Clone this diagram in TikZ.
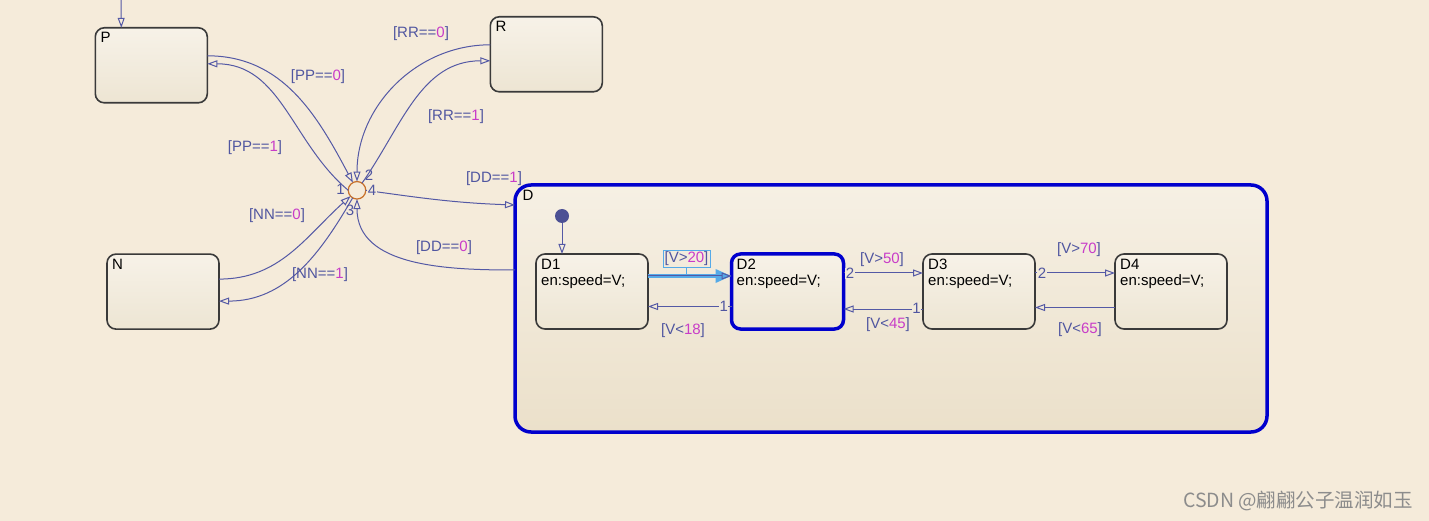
\documentclass[tikz,border=0pt]{standalone}
\usepackage{fontspec}
\setmainfont{Liberation Sans}
\newfontfamily\cjkfont{Noto Sans CJK SC}
\usepackage{xcolor}
\usepackage{tikz}
\usetikzlibrary{arrows.meta, positioning, calc}

\definecolor{bgbeige}{RGB}{245,235,218}
\definecolor{stroke}{RGB}{58,58,58}
\definecolor{transblue}{RGB}{84,89,165}
\definecolor{guardtxt}{RGB}{80,86,160}
\definecolor{guardnum}{RGB}{200,60,200}
\definecolor{activeblue}{RGB}{0,0,205}
\definecolor{hilite}{RGB}{85,170,232}
\definecolor{juncorange}{RGB}{200,112,40}
\definecolor{filltop}{RGB}{247,242,232}
\definecolor{fillbot}{RGB}{237,229,211}
\definecolor{dtop}{RGB}{246,240,228}
\definecolor{dbot}{RGB}{235,224,202}
\definecolor{dmid}{RGB}{242,234,219}
\definecolor{wmgray}{RGB}{140,140,140}

\newcommand{\statefont}{\fontsize{15}{16.5}\selectfont}
\newcommand{\guardfont}{\fontsize{15}{17}\selectfont}
\newcommand{\guard}[2]{[#1\textcolor{guardnum}{#2}]}

\tikzset{
    state/.style={
        rectangle,
        draw=stroke,
        line width=1.6pt,
        rounded corners=9pt,
        outer sep=0pt,
        minimum width=112pt,
        minimum height=75pt,
        top color=filltop,
        bottom color=fillbot
    },
    activestate/.style={
        draw=activeblue,
        line width=3.5pt
    },
    super/.style={
        rectangle,
        draw=activeblue,
        line width=3.5pt,
        rounded corners=16pt,
        outer sep=0pt,
        minimum width=752pt,
        minimum height=247pt,
        top color=dtop,
        bottom color=dbot
    },
    statename/.style={
        anchor=north west,
        inner sep=0pt,
        xshift=5pt,
        yshift=-4.5pt,
        align=left,
        text=black,
        font=\statefont
    },
    supername/.style={
        anchor=north west,
        inner sep=0pt,
        xshift=7.5pt,
        yshift=-5pt,
        text=black,
        font=\statefont
    },
    junc/.style={
        circle,
        draw=juncorange,
        line width=1.2pt,
        fill=bgbeige,
        outer sep=0pt,
        inner sep=0pt,
        minimum size=17.5pt
    },
    dflt/.style={
        circle,
        fill=transblue!90!black,
        inner sep=0pt,
        minimum size=14pt
    },
    trans/.style={
        draw=transblue,
        line width=1pt,
        -{Triangle[open, length=10pt, width=7pt]}
    },
    activetrans/.style={
        draw=hilite,
        line width=3.5pt,
        -{Triangle[length=16pt, width=13pt]}
    },
    guard/.style={
        font=\guardfont,
        text=guardtxt,
        inner sep=1pt
    },
    exitnum/.style={
        font=\guardfont,
        text=guardtxt,
        inner sep=0.6pt
    },
    wmark/.style={
        font=\cjkfont\fontsize{19.5}{19.5}\selectfont,
        text=wmgray,
        inner sep=0pt
    }
}

\begin{document}
\begin{tikzpicture}[x=1pt, y=-1pt]

% Canvas
\fill[bgbeige] (0,0) rectangle (1429,521);
\useasboundingbox (0,0) rectangle (1429,521);

% Top-level states
\node[state, label={[statename]north west:P}] (p) at (151.3,65.3) {};
\node[state, label={[statename]north west:R}] (r) at (546.3,54.3) {};
\node[state, label={[statename]north west:N}] (n) at (163,291.6) {};

% Superstate D and its substates
\node[super, label={[supername]north west:D}] (d) at (891,308.5) {};
\node[state, label={[statename]north west:{D1\\en:speed=V;}}] (d1) at (592,291.5) {};
\node[state, activestate, right=83.5pt of d1, label={[statename]north west:{D2\\en:speed=V;}}] (d2) {};
\node[state, right=79.5pt of d2, label={[statename]north west:{D3\\en:speed=V;}}] (d3) {};
\node[state, right=80pt of d3, label={[statename]north west:{D4\\en:speed=V;}}] (d4) {};

% Junction
\node[junc] (j) at (357,190.3) {};

% Default transitions
\coordinate (ptop) at (121,0);
\draw[trans] (ptop) -- ([xshift=-30pt]p.north);
\node[dflt] (dot) at (562,216) {};
\draw[trans] (dot) -- ([xshift=-30pt]d1.north);

% Junction transitions
\draw[trans] ([yshift=9.5pt]p.east) to[out=0, in=118] (j);
\draw[trans] (j.west) to[out=140, in=0] ([yshift=1.5pt]p.east);
\draw[trans] ([yshift=9.5pt]r.west) to[out=180, in=90] (j);
\draw[trans] (j) to[out=55, in=180] ([yshift=-6.5pt]r.west);
\draw[trans] ([yshift=12.5pt]n.east) to[out=0, in=222] (j);
\draw[trans] (j) to[out=240, in=0] ([yshift=-9.5pt]n.east);
\draw[trans] (j.east) to[out=-8, in=178] ([yshift=103.5pt]d.west);
\draw[trans] ([yshift=38.5pt]d.west) to[out=180, in=-90] (j);

% Substate transitions
\draw[activetrans] ([yshift=15.5pt]d1.east) -- ([yshift=15.5pt]d2.west);
\draw[trans] ([yshift=15.5pt]d1.east) -- ([yshift=15.5pt]d2.west);
\draw[trans] ([yshift=-15pt]d2.west) -- ([yshift=-15pt]d1.east);
\draw[trans] ([yshift=18.5pt]d2.east) -- ([yshift=18.5pt]d3.west);
\draw[trans] ([yshift=-17.5pt]d3.west) -- ([yshift=-17.5pt]d2.east);
\draw[trans] ([yshift=18.5pt]d3.east) -- ([yshift=18.5pt]d4.west);
\draw[trans] ([yshift=-16pt]d4.west) -- ([yshift=-16pt]d3.east);

% Guards
\node[guard] (gp0) at (318,77) {\guard{PP==}{0}};
\node[guard] (gp1) at (255,148) {\guard{PP==}{1}};
\node[guard] (gr0) at (421,34) {\guard{RR==}{0}};
\node[guard] (gr1) at (456,117) {\guard{RR==}{1}};
\node[guard] (gn0) at (277,216) {\guard{NN==}{0}};
\node[guard] (gn1) at (320,275) {\guard{NN==}{1}};
\node[guard] (gd1) at (494,179) {\guard{DD==}{1}};
\node[guard] (gd0) at (444,248) {\guard{DD==}{0}};
\node[guard, draw=hilite, line width=0.8pt, inner sep=1.5pt] (g12) at (686.5,259) {\guard{V>}{20}};
\draw[hilite, line width=1.5pt] (g12.south) -- ++(0,6);
\node[guard] (g21) at (683,331) {\guard{V<}{18}};
\node[guard] (g23) at (882,260) {\guard{V>}{50}};
\node[guard] (g32) at (888,325) {\guard{V<}{45}};
\node[guard] (g34) at (1079,250) {\guard{V>}{70}};
\node[guard] (g43) at (1080,330) {\guard{V<}{65}};

% Exit order numbers
\node[exitnum] (jx1) at (340.5,189) {1};
\node[exitnum] (jx2) at (369,175) {2};
\node[exitnum] (jx3) at (350,210) {3};
\node[exitnum, fill=bgbeige] (jx4) at (372,190.5) {4};
\node[exitnum, fill=dmid] (x21) at (723.7,306.5) {1};
\node[exitnum, fill=dmid] (x23) at (850,273.5) {2};
\node[exitnum, fill=dmid] (x32) at (916.5,308.5) {1};
\node[exitnum, fill=dmid] (x34) at (1042,273.5) {2};

% Watermark
\node[wmark] (wm) at (1298,501) {CSDN @翩翩公子温润如玉};

\end{tikzpicture}
\end{document}
